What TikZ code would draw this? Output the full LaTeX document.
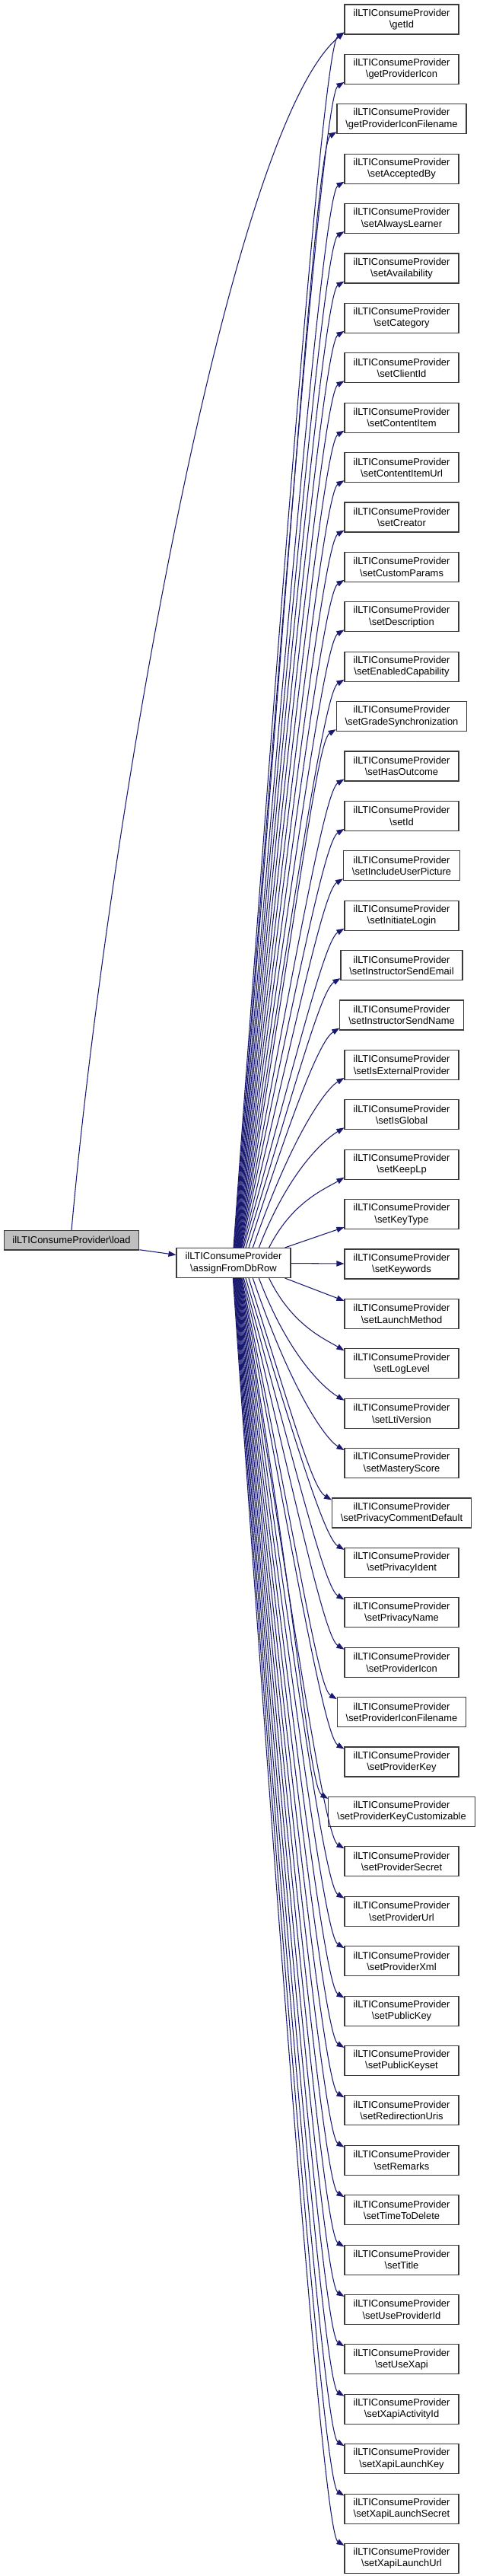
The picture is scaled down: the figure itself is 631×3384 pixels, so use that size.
\documentclass[tikz,border=0pt]{standalone}
\usepackage{fontspec}
\setmainfont{Liberation Sans}
\usetikzlibrary{arrows.meta}
\definecolor{edgeblue}{RGB}{25,25,112}
\definecolor{boxline}{RGB}{60,60,60}
\definecolor{loadfill}{RGB}{191,191,191}
\begin{document}
\begin{tikzpicture}[x=0.75pt,y=0.75pt,
    fn/.style={draw=boxline,fill=white,line width=0.8pt,align=center,
        font=\fontsize{9.7}{11.5}\selectfont,minimum width=112.5pt,
        minimum height=29.25pt,inner xsep=8.5pt,inner ysep=1pt},
    start/.style={fn,fill=loadfill,minimum height=19pt,minimum width=0pt},
    call/.style={draw=edgeblue,line width=0.8pt,-{Triangle[length=7.5pt,width=5.5pt]}}]
    \useasboundingbox (0,0) rectangle (631,-3384);
        \node[start] (load) at (94,-1629.3){ilLTIConsumeProvider\textbackslash load};
        \node[fn] (dbrow) at (307,-1659){ilLTIConsumeProvider\\\textbackslash assignFromDbRow};
            \node[fn] (getId) at (528,-25.5){ilLTIConsumeProvider\\\textbackslash getId};
            \node[fn] (getProviderIcon) at (528,-90.9){ilLTIConsumeProvider\\\textbackslash getProviderIcon};
            \node[fn] (getProviderIconFilename) at (528,-156.3){ilLTIConsumeProvider\\\textbackslash getProviderIconFilename};
            \node[fn] (setAcceptedBy) at (528,-221.7){ilLTIConsumeProvider\\\textbackslash setAcceptedBy};
            \node[fn] (setAlwaysLearner) at (528,-287.1){ilLTIConsumeProvider\\\textbackslash setAlwaysLearner};
            \node[fn] (setAvailability) at (528,-352.5){ilLTIConsumeProvider\\\textbackslash setAvailability};
            \node[fn] (setCategory) at (528,-417.9){ilLTIConsumeProvider\\\textbackslash setCategory};
            \node[fn] (setClientId) at (528,-483.3){ilLTIConsumeProvider\\\textbackslash setClientId};
            \node[fn] (setContentItem) at (528,-548.7){ilLTIConsumeProvider\\\textbackslash setContentItem};
            \node[fn] (setContentItemUrl) at (528,-614.1){ilLTIConsumeProvider\\\textbackslash setContentItemUrl};
            \node[fn] (setCreator) at (528,-679.5){ilLTIConsumeProvider\\\textbackslash setCreator};
            \node[fn] (setCustomParams) at (528,-744.9){ilLTIConsumeProvider\\\textbackslash setCustomParams};
            \node[fn] (setDescription) at (528,-810.3){ilLTIConsumeProvider\\\textbackslash setDescription};
            \node[fn] (setEnabledCapability) at (528,-875.7){ilLTIConsumeProvider\\\textbackslash setEnabledCapability};
            \node[fn] (setGradeSynchronization) at (528,-941.1){ilLTIConsumeProvider\\\textbackslash setGradeSynchronization};
            \node[fn] (setHasOutcome) at (528,-1006.5){ilLTIConsumeProvider\\\textbackslash setHasOutcome};
            \node[fn] (setId) at (528,-1071.9){ilLTIConsumeProvider\\\textbackslash setId};
            \node[fn] (setIncludeUserPicture) at (528,-1137.3){ilLTIConsumeProvider\\\textbackslash setIncludeUserPicture};
            \node[fn] (setInitiateLogin) at (528,-1202.7){ilLTIConsumeProvider\\\textbackslash setInitiateLogin};
            \node[fn] (setInstructorSendEmail) at (528,-1268.1){ilLTIConsumeProvider\\\textbackslash setInstructorSendEmail};
            \node[fn] (setInstructorSendName) at (528,-1333.5){ilLTIConsumeProvider\\\textbackslash setInstructorSendName};
            \node[fn] (setIsExternalProvider) at (528,-1398.9){ilLTIConsumeProvider\\\textbackslash setIsExternalProvider};
            \node[fn] (setIsGlobal) at (528,-1464.3){ilLTIConsumeProvider\\\textbackslash setIsGlobal};
            \node[fn] (setKeepLp) at (528,-1529.7){ilLTIConsumeProvider\\\textbackslash setKeepLp};
            \node[fn] (setKeyType) at (528,-1595.1){ilLTIConsumeProvider\\\textbackslash setKeyType};
            \node[fn] (setKeywords) at (528,-1660.5){ilLTIConsumeProvider\\\textbackslash setKeywords};
            \node[fn] (setLaunchMethod) at (528,-1725.9){ilLTIConsumeProvider\\\textbackslash setLaunchMethod};
            \node[fn] (setLogLevel) at (528,-1791.3){ilLTIConsumeProvider\\\textbackslash setLogLevel};
            \node[fn] (setLtiVersion) at (528,-1856.7){ilLTIConsumeProvider\\\textbackslash setLtiVersion};
            \node[fn] (setMasteryScore) at (528,-1922.1){ilLTIConsumeProvider\\\textbackslash setMasteryScore};
            \node[fn] (setPrivacyCommentDefault) at (528,-1987.5){ilLTIConsumeProvider\\\textbackslash setPrivacyCommentDefault};
            \node[fn] (setPrivacyIdent) at (528,-2052.9){ilLTIConsumeProvider\\\textbackslash setPrivacyIdent};
            \node[fn] (setPrivacyName) at (528,-2118.3){ilLTIConsumeProvider\\\textbackslash setPrivacyName};
            \node[fn] (setProviderIcon) at (528,-2183.7){ilLTIConsumeProvider\\\textbackslash setProviderIcon};
            \node[fn] (setProviderIconFilename) at (528,-2249.1){ilLTIConsumeProvider\\\textbackslash setProviderIconFilename};
            \node[fn] (setProviderKey) at (528,-2314.5){ilLTIConsumeProvider\\\textbackslash setProviderKey};
            \node[fn] (setProviderKeyCustomizable) at (528,-2379.9){ilLTIConsumeProvider\\\textbackslash setProviderKeyCustomizable};
            \node[fn] (setProviderSecret) at (528,-2445.3){ilLTIConsumeProvider\\\textbackslash setProviderSecret};
            \node[fn] (setProviderUrl) at (528,-2510.7){ilLTIConsumeProvider\\\textbackslash setProviderUrl};
            \node[fn] (setProviderXml) at (528,-2576.1){ilLTIConsumeProvider\\\textbackslash setProviderXml};
            \node[fn] (setPublicKey) at (528,-2641.5){ilLTIConsumeProvider\\\textbackslash setPublicKey};
            \node[fn] (setPublicKeyset) at (528,-2706.9){ilLTIConsumeProvider\\\textbackslash setPublicKeyset};
            \node[fn] (setRedirectionUris) at (528,-2772.3){ilLTIConsumeProvider\\\textbackslash setRedirectionUris};
            \node[fn] (setRemarks) at (528,-2837.7){ilLTIConsumeProvider\\\textbackslash setRemarks};
            \node[fn] (setTimeToDelete) at (528,-2903.1){ilLTIConsumeProvider\\\textbackslash setTimeToDelete};
            \node[fn] (setTitle) at (528,-2968.5){ilLTIConsumeProvider\\\textbackslash setTitle};
            \node[fn] (setUseProviderId) at (528,-3033.9){ilLTIConsumeProvider\\\textbackslash setUseProviderId};
            \node[fn] (setUseXapi) at (528,-3099.3){ilLTIConsumeProvider\\\textbackslash setUseXapi};
            \node[fn] (setXapiActivityId) at (528,-3164.7){ilLTIConsumeProvider\\\textbackslash setXapiActivityId};
            \node[fn] (setXapiLaunchKey) at (528,-3230.1){ilLTIConsumeProvider\\\textbackslash setXapiLaunchKey};
            \node[fn] (setXapiLaunchSecret) at (528,-3295.5){ilLTIConsumeProvider\\\textbackslash setXapiLaunchSecret};
            \node[fn] (setXapiLaunchUrl) at (528,-3360.9){ilLTIConsumeProvider\\\textbackslash setXapiLaunchUrl};
        \draw[call] (load) -- (dbrow);
        \draw[call] (load.north) .. controls +(46,517) and +(-153,-128) .. ([yshift=2.25pt]getId.south west);
        \draw[call] ([xshift=0pt]dbrow.north) .. controls +(75,1038) and +(-25,-15) .. ([yshift=2.25pt]getId.south west);
        \draw[call] ([xshift=0.5pt]dbrow.north) .. controls +(75,996) and +(-25,-15) .. ([yshift=2.25pt]getProviderIcon.south west);
        \draw[call] ([xshift=1pt]dbrow.north) .. controls +(75,953) and +(-25,-15) .. ([yshift=2.25pt]getProviderIconFilename.south west);
        \draw[call] ([xshift=1.5pt]dbrow.north) .. controls +(75,911) and +(-25,-15) .. ([yshift=2.25pt]setAcceptedBy.south west);
        \draw[call] ([xshift=2pt]dbrow.north) .. controls +(75,868) and +(-25,-15) .. ([yshift=2.25pt]setAlwaysLearner.south west);
        \draw[call] ([xshift=2.5pt]dbrow.north) .. controls +(75,826) and +(-25,-15) .. ([yshift=2.25pt]setAvailability.south west);
        \draw[call] ([xshift=3pt]dbrow.north) .. controls +(75,783) and +(-25,-15) .. ([yshift=2.25pt]setCategory.south west);
        \draw[call] ([xshift=3.5pt]dbrow.north) .. controls +(75,740) and +(-25,-15) .. ([yshift=2.25pt]setClientId.south west);
        \draw[call] ([xshift=4pt]dbrow.north) .. controls +(75,698) and +(-25,-15) .. ([yshift=2.25pt]setContentItem.south west);
        \draw[call] ([xshift=4.5pt]dbrow.north) .. controls +(75,655) and +(-25,-15) .. ([yshift=2.25pt]setContentItemUrl.south west);
        \draw[call] ([xshift=5pt]dbrow.north) .. controls +(75,613) and +(-25,-15) .. ([yshift=2.25pt]setCreator.south west);
        \draw[call] ([xshift=5.5pt]dbrow.north) .. controls +(75,571) and +(-25,-15) .. ([yshift=2.25pt]setCustomParams.south west);
        \draw[call] ([xshift=6pt]dbrow.north) .. controls +(75,528) and +(-25,-15) .. ([yshift=2.25pt]setDescription.south west);
        \draw[call] ([xshift=6.5pt]dbrow.north) .. controls +(75,486) and +(-25,-15) .. ([yshift=2.25pt]setEnabledCapability.south west);
        \draw[call] ([xshift=7pt]dbrow.north) .. controls +(75,443) and +(-25,-15) .. ([yshift=2.25pt]setGradeSynchronization.south west);
        \draw[call] ([xshift=7.5pt]dbrow.north) .. controls +(75,400) and +(-25,-15) .. ([yshift=2.25pt]setHasOutcome.south west);
        \draw[call] ([xshift=8pt]dbrow.north) .. controls +(75,358) and +(-25,-15) .. ([yshift=2.25pt]setId.south west);
        \draw[call] ([xshift=9pt]dbrow.north) .. controls +(75,315) and +(-25,-15) .. ([yshift=2.25pt]setIncludeUserPicture.south west);
        \draw[call] ([xshift=10pt]dbrow.north) .. controls +(75,273) and +(-25,-15) .. ([yshift=2.25pt]setInitiateLogin.south west);
        \draw[call] ([xshift=12pt]dbrow.north) .. controls +(70,230) and +(-25,-15) .. ([yshift=2.25pt]setInstructorSendEmail.south west);
        \draw[call] ([xshift=15pt]dbrow.north) .. controls +(60,188) and +(-25,-15) .. ([yshift=2.25pt]setInstructorSendName.south west);
        \draw[call] ([xshift=19pt]dbrow.north) .. controls +(50,145) and +(-25,-15) .. ([yshift=2.25pt]setIsExternalProvider.south west);
        \draw[call] ([xshift=25pt]dbrow.north) .. controls +(40,103) and +(-25,-15) .. ([yshift=2.25pt]setIsGlobal.south west);
        \draw[call] ([xshift=35pt]dbrow.north) .. controls +(30,60) and +(-25,-15) .. ([yshift=2.25pt]setKeepLp.south west);
        \draw[call] ([xshift=-6pt]dbrow.north east) -- ([yshift=2.25pt]setKeyType.south west);
        \draw[call] (dbrow) -- (setKeywords);
        \draw[call] ([xshift=-6pt]dbrow.south east) -- ([yshift=-2.25pt]setLaunchMethod.north west);
        \draw[call] ([xshift=35pt]dbrow.south) .. controls +(30,-62) and +(-25,15) .. ([yshift=-2.25pt]setLogLevel.north west);
        \draw[call] ([xshift=25pt]dbrow.south) .. controls +(40,-105) and +(-25,15) .. ([yshift=-2.25pt]setLtiVersion.north west);
        \draw[call] ([xshift=19pt]dbrow.south) .. controls +(50,-147) and +(-25,15) .. ([yshift=-2.25pt]setMasteryScore.north west);
        \draw[call] ([xshift=15pt]dbrow.south) .. controls +(60,-190) and +(-25,15) .. ([yshift=-2.25pt]setPrivacyCommentDefault.north west);
        \draw[call] ([xshift=12pt]dbrow.south) .. controls +(70,-232) and +(-25,15) .. ([yshift=-2.25pt]setPrivacyIdent.north west);
        \draw[call] ([xshift=10pt]dbrow.south) .. controls +(75,-275) and +(-25,15) .. ([yshift=-2.25pt]setPrivacyName.north west);
        \draw[call] ([xshift=9pt]dbrow.south) .. controls +(75,-317) and +(-25,15) .. ([yshift=-2.25pt]setProviderIcon.north west);
        \draw[call] ([xshift=8pt]dbrow.south) .. controls +(75,-360) and +(-25,15) .. ([yshift=-2.25pt]setProviderIconFilename.north west);
        \draw[call] ([xshift=7.5pt]dbrow.south) .. controls +(75,-402) and +(-25,15) .. ([yshift=-2.25pt]setProviderKey.north west);
        \draw[call] ([xshift=7pt]dbrow.south) .. controls +(75,-445) and +(-25,15) .. ([yshift=-2.25pt]setProviderKeyCustomizable.north west);
        \draw[call] ([xshift=6.5pt]dbrow.south) .. controls +(75,-487) and +(-25,15) .. ([yshift=-2.25pt]setProviderSecret.north west);
        \draw[call] ([xshift=6pt]dbrow.south) .. controls +(75,-530) and +(-25,15) .. ([yshift=-2.25pt]setProviderUrl.north west);
        \draw[call] ([xshift=5.5pt]dbrow.south) .. controls +(75,-572) and +(-25,15) .. ([yshift=-2.25pt]setProviderXml.north west);
        \draw[call] ([xshift=5pt]dbrow.south) .. controls +(75,-615) and +(-25,15) .. ([yshift=-2.25pt]setPublicKey.north west);
        \draw[call] ([xshift=4.5pt]dbrow.south) .. controls +(75,-657) and +(-25,15) .. ([yshift=-2.25pt]setPublicKeyset.north west);
        \draw[call] ([xshift=4pt]dbrow.south) .. controls +(75,-700) and +(-25,15) .. ([yshift=-2.25pt]setRedirectionUris.north west);
        \draw[call] ([xshift=3.5pt]dbrow.south) .. controls +(75,-742) and +(-25,15) .. ([yshift=-2.25pt]setRemarks.north west);
        \draw[call] ([xshift=3pt]dbrow.south) .. controls +(75,-785) and +(-25,15) .. ([yshift=-2.25pt]setTimeToDelete.north west);
        \draw[call] ([xshift=2.5pt]dbrow.south) .. controls +(75,-827) and +(-25,15) .. ([yshift=-2.25pt]setTitle.north west);
        \draw[call] ([xshift=2pt]dbrow.south) .. controls +(75,-870) and +(-25,15) .. ([yshift=-2.25pt]setUseProviderId.north west);
        \draw[call] ([xshift=1.5pt]dbrow.south) .. controls +(75,-912) and +(-25,15) .. ([yshift=-2.25pt]setUseXapi.north west);
        \draw[call] ([xshift=1pt]dbrow.south) .. controls +(75,-955) and +(-25,15) .. ([yshift=-2.25pt]setXapiActivityId.north west);
        \draw[call] ([xshift=0.5pt]dbrow.south) .. controls +(75,-997) and +(-25,15) .. ([yshift=-2.25pt]setXapiLaunchKey.north west);
        \draw[call] ([xshift=0pt]dbrow.south) .. controls +(75,-1040) and +(-25,15) .. ([yshift=-2.25pt]setXapiLaunchSecret.north west);
        \draw[call] ([xshift=-0.5pt]dbrow.south) .. controls +(75,-1082) and +(-25,15) .. ([yshift=-2.25pt]setXapiLaunchUrl.north west);
\end{tikzpicture}
\end{document}
